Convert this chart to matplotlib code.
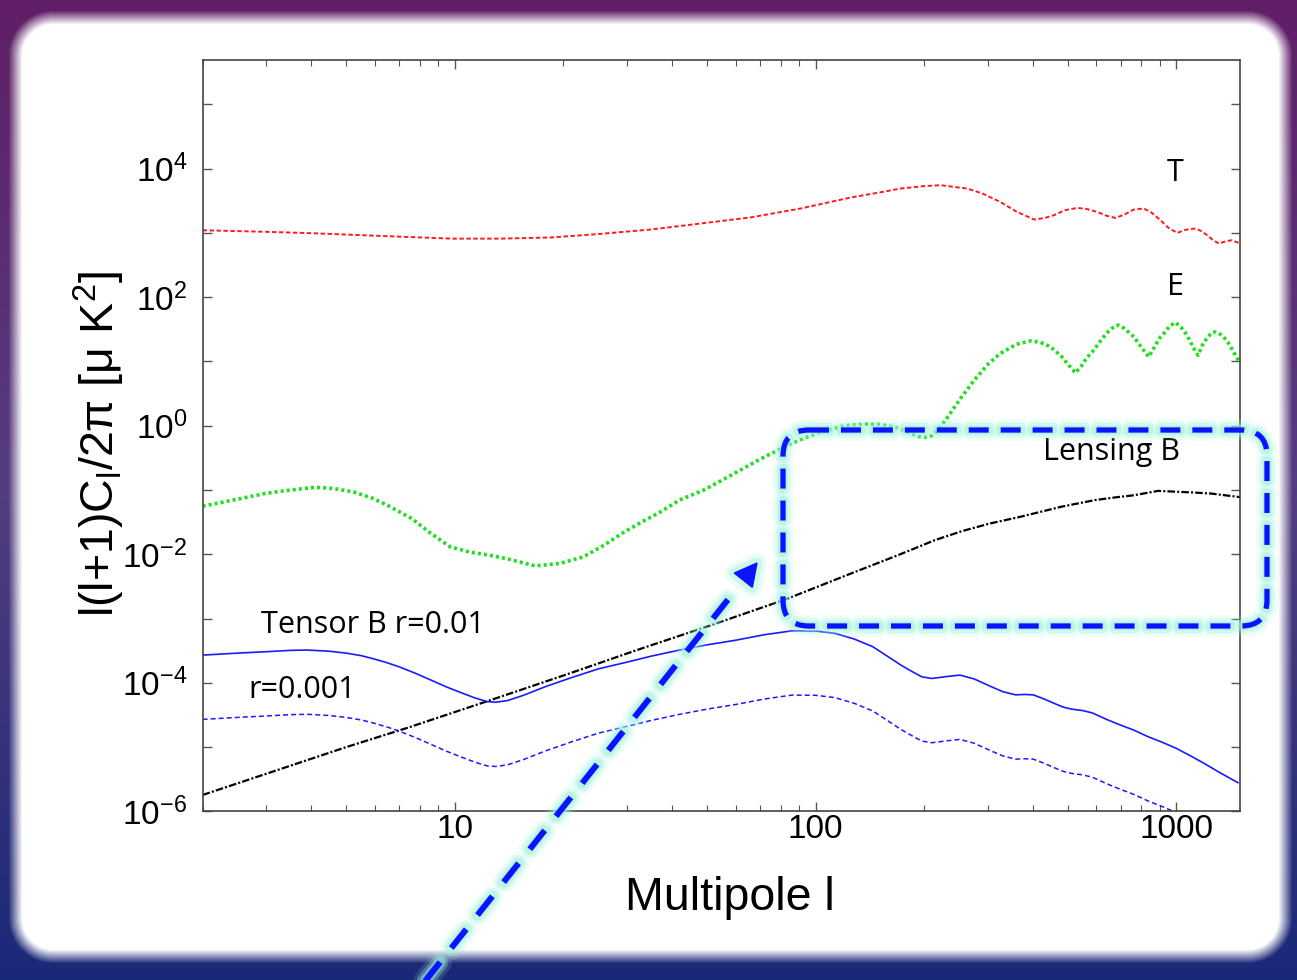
import numpy as np
import matplotlib
matplotlib.use('Agg')
import matplotlib.pyplot as plt
from matplotlib.patches import FancyBboxPatch, Polygon
from matplotlib.ticker import FixedLocator, FuncFormatter, LogLocator, NullFormatter, NullLocator

# ---------------- data ----------------
ell_T = [2, 3, 4, 6, 9.8, 13.4, 18.5, 25, 35, 48, 66, 91, 125, 150, 172, 200, 222, 263, 290, 325,
         360, 403, 430, 457, 490, 531, 565, 603, 640, 678, 720, 760, 811, 850, 903, 950, 1005,
         1060, 1129, 1170, 1217, 1260, 1310, 1370, 1426, 1500]
D_T = [1100, 1040, 990, 905, 815, 815, 850, 960, 1130, 1400, 1740, 2400, 3550, 4250, 4900, 5350,
       5520, 4900, 4100, 3030, 2150, 1615, 1700, 1880, 2250, 2450, 2350, 2120, 1850, 1710, 1950,
       2300, 2400, 2100, 1580, 1200, 1000, 1120, 1170, 1070, 920, 780, 684, 740, 770, 684]

ell_E = [2, 2.5, 3, 3.5, 4.1, 4.6, 5.25, 5.9, 6.5, 7.6, 8.5, 9.7, 11, 12.3, 14, 16.7, 19.5, 22.7,
         26, 29, 33, 37, 42, 49, 56, 70, 85, 100, 120, 136, 150, 165, 180, 193, 200, 210, 218, 226,
         237, 250, 275, 300, 325, 360, 394, 420, 448, 480, 505, 525, 545, 565, 590, 620, 650, 675,
         692, 715, 740, 762, 800, 838, 870, 900, 923, 960, 994, 1030, 1070, 1110, 1147, 1180,
         1220, 1255, 1282, 1330, 1370, 1397, 1440, 1488]
D_E = [0.056, 0.072, 0.089, 0.1, 0.11, 0.106, 0.093, 0.075, 0.058, 0.036, 0.022, 0.0131, 0.0108,
       0.0098, 0.0085, 0.0066, 0.0072, 0.0091, 0.014, 0.021, 0.032, 0.045, 0.07, 0.1, 0.15, 0.3,
       0.52, 0.75, 1.0, 1.06, 1.05, 0.96, 0.8, 0.68, 0.66, 0.7, 0.85, 1.1, 1.6, 2.5, 5.1, 9.0,
       13.3, 18.5, 20.9, 19.8, 16.9, 12.0, 8.5, 6.65, 8.5, 11.5, 15.0, 22.0, 30.0, 35.5, 36.7,
       33.0, 28.0, 24.2, 16.5, 11.8, 17.0, 23.5, 27.3, 36.0, 40.5, 34.0, 25.6, 17.0, 12.5, 18.0,
       24.0, 28.0, 28.8, 26.0, 22.0, 19.0, 14.0, 10.2]

ell_BL = [2, 5, 7.4, 12.7, 20, 32.8, 50, 82.8, 125, 170, 214, 255, 303, 367, 480, 594, 680, 764,
          890, 1000, 1114, 1250, 1500]
D_BL = [1.8e-6, 1.0e-5, 2.0e-5, 5.5e-5, 1.3e-4, 3.4e-4, 7.5e-4, 2.0e-3, 5.0e-3, 9.8e-3, 0.0166,
        0.023, 0.030, 0.038, 0.055, 0.0697, 0.077, 0.083, 0.097, 0.094, 0.0915, 0.088, 0.0775]

ell_B = [2, 2.5, 3, 3.5, 3.9, 4.5, 5, 5.5, 5.9, 6.5, 7, 7.8, 8.6, 9.5, 10.5, 11.4, 12.3, 13, 14,
         15.5, 17.8, 21, 25, 30, 35, 42, 50, 60, 72, 86, 100, 113, 128, 144, 158, 172, 185, 197,
         210, 230, 251, 275, 307, 330, 358, 380, 401, 430, 458, 485, 512, 550, 585, 640, 700, 760,
         835, 910, 998, 1090, 1192, 1320, 1480]
D_B_r01 = [2.7e-4, 2.9e-4, 3.05e-4, 3.2e-4, 3.24e-4, 3.1e-4, 2.9e-4, 2.65e-4, 2.4e-4, 2.05e-4,
           1.78e-4, 1.4e-4, 1.1e-4, 8.6e-5, 6.9e-5, 5.8e-5, 5.1e-5, 5.0e-5, 5.3e-5, 6.4e-5,
           8.7e-5, 1.2e-4, 1.65e-4, 2.1e-4, 2.6e-4, 3.24e-4, 3.9e-4, 4.6e-4, 5.6e-4, 6.45e-4,
           6.4e-4, 5.9e-4, 4.8e-4, 3.65e-4, 2.6e-4, 1.9e-4, 1.5e-4, 1.24e-4, 1.17e-4, 1.25e-4,
           1.32e-4, 1.15e-4, 8.7e-5, 7.3e-5, 6.5e-5, 6.6e-5, 6.5e-5, 5.6e-5, 4.8e-5, 4.2e-5,
           3.9e-5, 3.7e-5, 3.4e-5, 2.7e-5, 2.2e-5, 1.85e-5, 1.45e-5, 1.2e-5, 9.6e-6, 7.4e-6,
           5.6e-6, 4.0e-6, 2.8e-6]
D_B_r001 = [2.7e-5, 2.9e-5, 3.05e-5, 3.2e-5, 3.24e-5, 3.1e-5, 2.9e-5, 2.65e-5, 2.4e-5, 2.05e-5,
            1.78e-5, 1.4e-5, 1.1e-5, 8.6e-6, 6.9e-6, 5.8e-6, 5.1e-6, 5.0e-6, 5.3e-6, 6.4e-6,
            8.7e-6, 1.2e-5, 1.65e-5, 2.1e-5, 2.6e-5, 3.24e-5, 3.9e-5, 4.6e-5, 5.6e-5, 6.45e-5,
            6.4e-5, 5.9e-5, 4.8e-5, 3.65e-5, 2.6e-5, 1.9e-5, 1.5e-5, 1.24e-5, 1.17e-5, 1.25e-5,
            1.32e-5, 1.15e-5, 8.7e-6, 7.3e-6, 6.5e-6, 6.6e-6, 6.5e-6, 5.6e-6, 4.8e-6, 4.2e-6,
            3.9e-6, 3.7e-6, 3.4e-6, 2.7e-6, 2.2e-6, 1.85e-6, 1.45e-6, 1.2e-6, 9.6e-7, 7.4e-7,
            5.6e-7, 4.0e-7, 2.8e-7]

x_ticks = [10, 100, 1000]
y_exps = list(range(-6, 6))
y_label_exps = [-6, -4, -2, 0, 2, 4]

# ---------------- style ----------------
plt.rcParams['font.family'] = ['Liberation Sans', 'DejaVu Sans']
plt.rcParams['lines.scale_dashes'] = False
plt.rcParams['mathtext.fontset'] = 'custom'
plt.rcParams['mathtext.rm'] = 'Liberation Sans'
plt.rcParams['mathtext.it'] = 'Liberation Sans:italic'

W, H = 1297, 980
fig = plt.figure(figsize=(W / 100, H / 100), dpi=100)

# ---------------- background (slide frame) ----------------
bg = fig.add_axes([0, 0, 1, 1], zorder=-10)
yy, xx = np.mgrid[0:H, 0:W].astype(float)
t = (yy / (H - 1))[..., None]
top = np.array([0.38, 0.12, 0.40])
mid = np.array([0.33, 0.24, 0.50])
bot = np.array([0.10, 0.16, 0.47])
img = np.where(t < 0.5, top + (mid - top) * (t / 0.5), mid + (bot - mid) * ((t - 0.5) / 0.5))
x0, x1, y0, y1 = 15, 1285, 18, 956
cx, cy = (x0 + x1) / 2, (y0 + y1) / 2
hx, hy = (x1 - x0) / 2, (y1 - y0) / 2
rr = 38
qx = np.abs(xx - cx) - hx + rr
qy = np.abs(yy - cy) - hy + rr
dist = np.hypot(np.maximum(qx, 0), np.maximum(qy, 0)) + np.minimum(np.maximum(qx, qy), 0) - rr
a = np.clip(0.5 - dist / 14.0, 0, 1)[..., None]
img = img * (1 - a) + a
bg.imshow(img, extent=[0, W, H, 0], aspect='auto', interpolation='bilinear')
bg.set_xlim(0, W)
bg.set_ylim(H, 0)
bg.axis('off')

# ---------------- main chart ----------------
ax = fig.add_axes([202.6 / W, 1 - 811.4 / H, (1240 - 202.6) / W, (811.4 - 60) / H])
ax.set_facecolor('none')
ax.set_xscale('log')
ax.set_yscale('log')
ax.set_xlim(2, 1500)
ax.set_ylim(1e-6, 10 ** 5.69)

ax.plot(ell_T, D_T, color='#ff1a1a', lw=1.4, ls=(0, (3.2, 1.8)))
ax.plot(ell_E, D_E, color='#1fe01f', lw=2.6, ls=(0, (2.2, 2.2)))
ax.plot(ell_BL, D_BL, color='black', lw=1.6, ls=(0, (5.5, 1.5, 1.5, 1.5)))
ax.plot(ell_B, D_B_r01, color='#1a1aff', lw=1.2)
ax.plot(ell_B, D_B_r001, color='#1a1aff', lw=1.1, ls=(0, (3.6, 2.2)))

ax.xaxis.set_major_locator(FixedLocator(x_ticks))
ax.xaxis.set_major_formatter(FuncFormatter(lambda v, p: '%d' % round(v)))
ax.xaxis.set_minor_locator(LogLocator(base=10, subs=np.arange(2, 10)))
ax.xaxis.set_minor_formatter(NullFormatter())
ax.yaxis.set_major_locator(FixedLocator([10.0 ** k for k in y_exps]))
ax.yaxis.set_minor_locator(NullLocator())


def yfmt(v, p):
    k = int(round(np.log10(v)))
    return r'$\mathregular{10^{%d}}$' % k if k in y_label_exps else ''


ax.yaxis.set_major_formatter(FuncFormatter(yfmt))
ax.tick_params(which='both', direction='in', top=True, right=True, colors='#555555',
               labelcolor='black')
ax.tick_params(which='major', length=6.5, width=1.0)
ax.tick_params(which='minor', length=4, width=0.8)
ax.tick_params(axis='both', labelsize=24)
ax.tick_params(axis='x', pad=2)
ax.tick_params(axis='y', pad=11)
for s in ax.spines.values():
    s.set_color('#444444')
    s.set_linewidth(1.2)

tf = dict(family=['Open Sans', 'DejaVu Sans'], fontsize=22, color='black',
          ha='center', va='center', transform=ax.transAxes)
ax.text(0.9374, 0.8496, 'T', **tf)
ax.text(0.9374, 0.698, 'E', **tf)
ax.text(0.8766, 0.4783, 'Lensing B', **tf)
ax.text(0.1643, 0.248, 'Tensor B r=0.01', **tf)
ax.text(0.0959, 0.1616, 'r=0.001', **tf)

fig.text(730 / W, 1 - 898 / H, 'Multipole l', ha='center', va='center', fontsize=33.5)
fig.text(99 / W, 1 - 444 / H, r'l(l+1)C$_\mathregular{l}$/2π [μ K$^\mathregular{2}$]',
         rotation=90, ha='center', va='center', fontsize=33.5)

# ---------------- highlight overlay ----------------
ov = fig.add_axes([0, 0, 1, 1], zorder=20)
ov.set_xlim(0, W)
ov.set_ylim(H, 0)
ov.axis('off')
ov.patch.set_alpha(0)

glow = (0.62, 0.95, 0.86)
blue = '#0a14ff'
rect_dash = (0, (14.4, 8.6))
for lw, col, al in [(16, glow, 0.15), (11, glow, 0.3), (7, glow, 0.5), (3.8, blue, 1.0)]:
    p = FancyBboxPatch((783, 430), 484, 196, boxstyle='round,pad=0,rounding_size=26',
                       fill=False, ec=col, lw=lw, alpha=al, ls=rect_dash)
    p.set_capstyle('round' if col is glow else 'butt')
    ov.add_patch(p)

tip = np.array([757.0, 563.0])
start = np.array([418.0, 990.0])
u = (tip - start) / np.hypot(*(tip - start))
n = np.array([-u[1], u[0]])
line_end = tip - 30 * u
arr_dash = (0, (17.3, 13.0))
for lw, col, al in [(17, glow, 0.15), (12, glow, 0.3), (8, glow, 0.5), (4.3, blue, 1.0)]:
    ov.plot([start[0], line_end[0]], [start[1], line_end[1]], color=col, lw=lw, alpha=al,
            ls=arr_dash, dash_capstyle='round' if col is glow else 'butt')
base = tip - 22 * u
head = [tip, base + 11.5 * n, base - 11.5 * n]
ov.add_patch(Polygon(head, closed=True, fc=glow, ec=glow, lw=14, alpha=0.2, joinstyle='round'))
ov.add_patch(Polygon(head, closed=True, fc=glow, ec=glow, lw=8, alpha=0.4, joinstyle='round'))
ov.add_patch(Polygon(head, closed=True, fc=blue, ec=blue, lw=1.0))

fig.savefig('out.png', dpi=100)
